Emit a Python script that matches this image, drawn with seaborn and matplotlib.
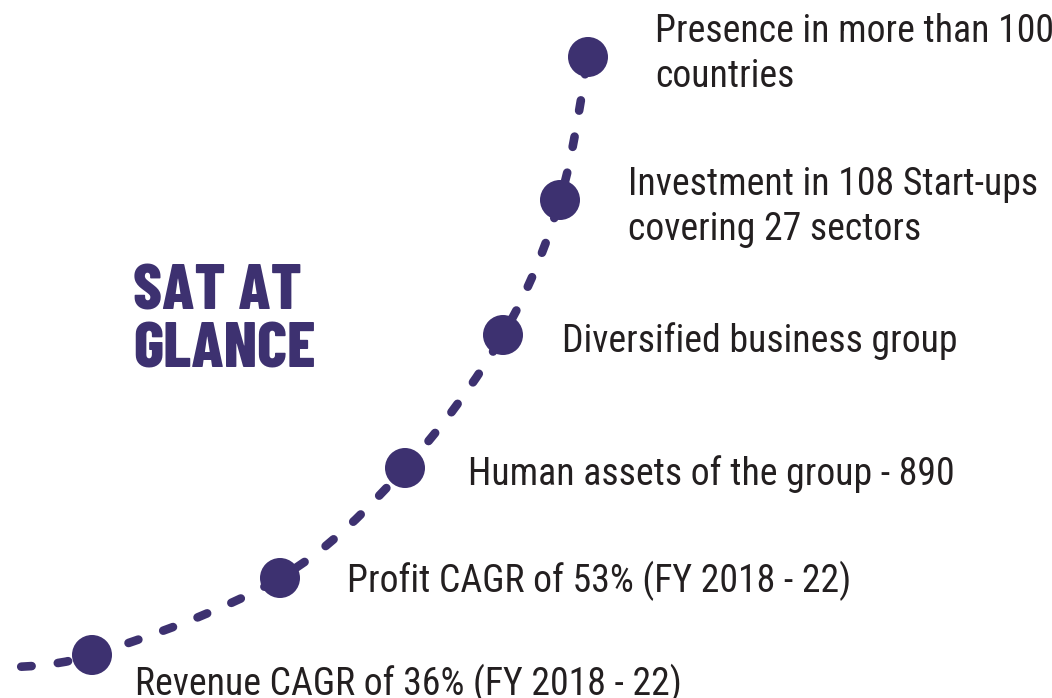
import numpy as np
import matplotlib
matplotlib.use("Agg")
import matplotlib.pyplot as plt
from matplotlib.path import Path
from matplotlib.patches import PathPatch
import seaborn as sns
import pandas as pd

# milestones along the curve (pixel space, y grows downward)
labels = [
    "Revenue CAGR of 36% (FY 2018 - 22)",
    "Profit CAGR of 53% (FY 2018 - 22)",
    "Human assets of the group - 890",
    "Diversified business group",
    "Investment in 108 Start-ups\ncovering 27 sectors",
    "Presence in more than 100\ncountries",
]
dot_x = [92, 280, 405, 503, 560, 588]
dot_y = [655, 578, 468, 335, 200, 57]
label_x = [135, 347, 468, 562, 628, 655]
label_y = [695, 592, 485, 352, 195, 42]
curve_start = (-10, 668)

title = "SAT AT\nGLANCE"
purple = "#3d3170"
textcol = "#231f20"

sns.set_theme(style="white")
plt.rcParams["font.family"] = ["Roboto Condensed", "Liberation Sans Narrow", "DejaVu Sans"]
plt.rcParams["lines.scale_dashes"] = False

fig = plt.figure(figsize=(10.52, 6.98), dpi=100)
ax = fig.add_axes([0, 0, 1, 1])
ax.set_xlim(0, 1052)
ax.set_ylim(698, 0)
ax.axis("off")

# smooth dashed curve through the dots (catmull-rom -> bezier)
pts = np.array([curve_start] + list(zip(dot_x, dot_y)), dtype=float)
ext = np.vstack([pts[0], pts, pts[-1]])
verts = [tuple(pts[0])]
codes = [Path.MOVETO]
for i in range(1, len(ext) - 2):
    p0, p1, p2, p3 = ext[i - 1], ext[i], ext[i + 1], ext[i + 2]
    c1 = p1 + (p2 - p0) / 6
    c2 = p2 - (p3 - p1) / 6
    verts += [tuple(c1), tuple(c2), tuple(p2)]
    codes += [Path.CURVE4] * 3
patch = PathPatch(Path(verts, codes), fill=False, edgecolor=purple, lw=6.2,
                  linestyle=(4, (7.5, 19)), capstyle="round")
ax.add_patch(patch)

df = pd.DataFrame({"x": dot_x, "y": dot_y})
sns.scatterplot(data=df, x="x", y="y", s=830, color=purple, edgecolor="none",
                ax=ax, zorder=3, legend=False)
ax.set_xlabel("")
ax.set_ylabel("")

for lx, ly, t in zip(label_x, label_y, labels):
    for k, line in enumerate(t.split("\n")):
        ax.text(lx, ly + k * 45, line, fontsize=27.2, color=textcol,
                ha="left", va="baseline")

for k, line in enumerate(title.split("\n")):
    ax.text(133, 310 + k * 57, line, fontsize=46, fontweight=800,
            family=["Barlow Condensed", "Roboto Condensed", "DejaVu Sans"],
            color=purple, ha="left", va="baseline")

fig.savefig("out.png", dpi=100)
